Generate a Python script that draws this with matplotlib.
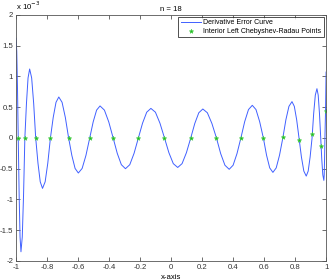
import matplotlib
matplotlib.use('Agg')
import matplotlib.pyplot as plt
from matplotlib.ticker import FuncFormatter

plt.rcParams['font.family'] = ['Liberation Sans', 'DejaVu Sans']

# derivative error curve (y in units of 1e-3)
curve_x = [-1.0, -0.9952, -0.9904, -0.9856,
           -0.9797, -0.9739, -0.968, -0.9596, -0.9513, -0.9429,
           -0.9326, -0.9223, -0.912, -0.899, -0.886, -0.873,
           -0.8583, -0.8437, -0.829, -0.812, -0.795, -0.778,
           -0.760, -0.742, -0.724, -0.7029, -0.6818, -0.6607,
           -0.6398, -0.6189, -0.598, -0.5735, -0.549, -0.5245,
           -0.5023, -0.4802, -0.458, -0.4298, -0.4017, -0.3735,
           -0.347, -0.3205, -0.294, -0.2662, -0.2385, -0.2107,
           -0.1838, -0.1569, -0.130, -0.1008, -0.0716, -0.0424,
           -0.0139, 0.0145, 0.043, 0.071, 0.0991, 0.1271,
           0.1531, 0.179, 0.205, 0.2342, 0.2635, 0.2927,
           0.3201, 0.3476, 0.375, 0.4002, 0.4253, 0.4505,
           0.475, 0.4995, 0.524, 0.5478, 0.5715, 0.5953,
           0.6159, 0.6364, 0.657, 0.6783, 0.6997, 0.721,
           0.7407, 0.7603, 0.780, 0.7951, 0.8102, 0.8253,
           0.8409, 0.8564, 0.872, 0.8845, 0.897, 0.9095,
           0.920, 0.9305, 0.941, 0.9491, 0.9572, 0.9654,
           0.9721, 0.9788, 0.9856, 0.9879, 0.9902, 0.9925,
           0.9964, 1.0]
curve_y = [1.62, 1.41, 0.81, 0.0,
           -0.925, -1.61, -1.85, -1.61, -0.925, 0.0,
           0.56, 0.975, 1.12, 0.975, 0.56, 0.0,
           -0.41, -0.713, -0.82, -0.713, -0.41, 0.0,
           0.333, 0.579, 0.665, 0.579, 0.333, 0.0,
           -0.285, -0.496, -0.57, -0.496, -0.285, 0.0,
           0.26, 0.452, 0.52, 0.452, 0.26, 0.0,
           -0.25, -0.435, -0.50, -0.435, -0.25, 0.0,
           0.24, 0.418, 0.48, 0.418, 0.24, 0.0,
           -0.24, -0.418, -0.48, -0.418, -0.24, 0.0,
           0.235, 0.409, 0.47, 0.409, 0.235, 0.0,
           -0.255, -0.444, -0.51, -0.444, -0.255, 0.0,
           0.265, 0.461, 0.53, 0.461, 0.265, 0.0,
           -0.28, -0.487, -0.56, -0.487, -0.28, 0.0,
           0.295, 0.513, 0.59, 0.513, 0.295, 0.0,
           -0.31, -0.539, -0.62, -0.539, -0.31, 0.0,
           0.40, 0.696, 0.80, 0.696, 0.40, 0.0,
           -0.345, -0.60, -0.69, -0.60, -0.345, 0.0,
           0.43, 1.07]

# interior left Chebyshev-Radau points (n = 18)
pts_x = [-0.9856, -0.9429, -0.8730, -0.7780, -0.6607, -0.5245, -0.3735,
         -0.2107, -0.0424, 0.1271, 0.2927, 0.4505, 0.5953, 0.7223,
         0.8273, 0.9115, 0.9677, 0.9964]
pts_y = [0, 0, 0, 0, 0, 0, 0, 0, 0, 0, 0, 0, 0, 0.02,
         -0.04, 0.07, -0.125, 0.43]

xticks = [-1, -0.8, -0.6, -0.4, -0.2, 0, 0.2, 0.4, 0.6, 0.8, 1]
yticks = [-2, -1.5, -1, -0.5, 0, 0.5, 1, 1.5, 2]

fig = plt.figure(figsize=(3.32, 2.8), dpi=100)
ax = fig.add_axes([0.0482, 0.0679, 0.934, 0.879])

ax.plot(curve_x, curve_y, color='#4060ff', lw=0.7, label='Derivative Error Curve')
ax.plot(pts_x, pts_y, ls='none', marker='*', ms=3.2, color='#22b822',
        mec='#44cc44', mew=0.5, label='Interior Left Chebyshev-Radau Points')

ax.set_xlim(-1, 1)
ax.set_ylim(-2, 2)
ax.set_xticks(xticks)
ax.set_yticks(yticks)
fmt = FuncFormatter(lambda v, p: '%g' % v)
ax.xaxis.set_major_formatter(fmt)
ax.yaxis.set_major_formatter(fmt)
ax.tick_params(direction='in', length=3, width=0.5, labelsize=5.6, pad=2,
               top=True, right=True, colors='#333333')
for s in ax.spines.values():
    s.set_linewidth(0.6)
    s.set_color('#555555')

ax.set_title('n = 18', fontsize=5.6, pad=3)
ax.set_xlabel('x-axis', fontsize=5.6, labelpad=2)
ax.text(0.0, 1.01, 'x 10$^{-3}$', transform=ax.transAxes, fontsize=5.6,
        ha='left', va='bottom')

leg = ax.legend(loc='upper right', fontsize=5.0, frameon=True, fancybox=False,
                borderpad=0.3, labelspacing=0.25, handlelength=2.9,
                handletextpad=0.4, borderaxespad=0.35)
leg.get_frame().set_edgecolor('black')
leg.get_frame().set_linewidth(0.6)

plt.savefig('out.png', dpi=100)
